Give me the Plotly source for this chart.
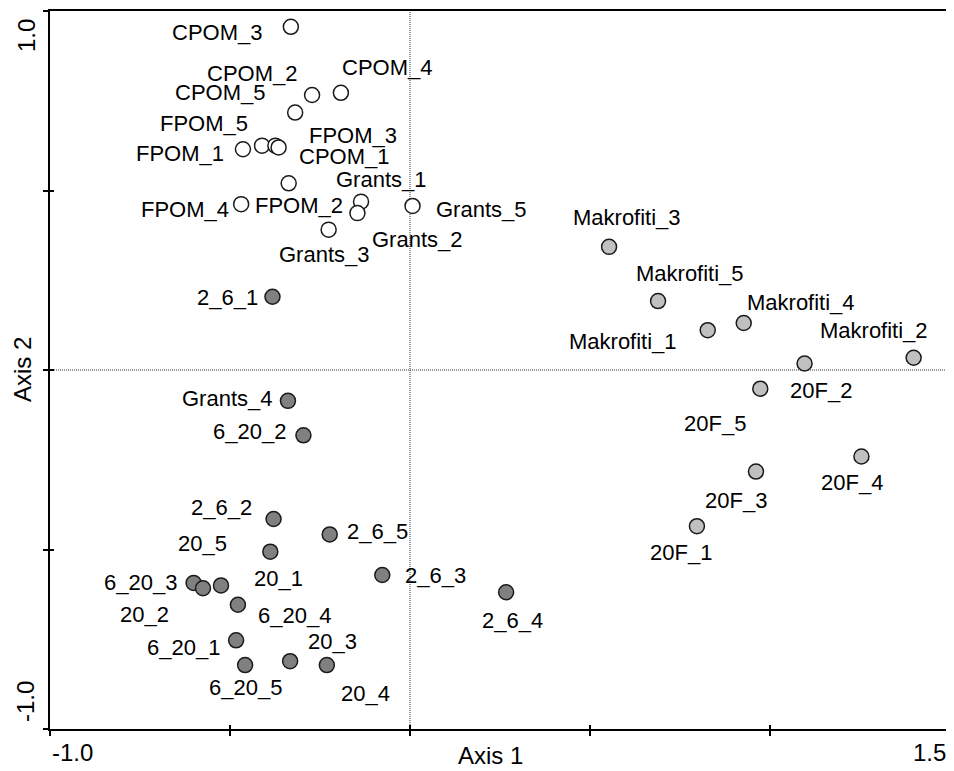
import plotly.graph_objects as go

# ---------------- data ----------------
open_names = ["CPOM_3", "CPOM_2", "CPOM_5", "CPOM_4", "FPOM_5", "FPOM_1", "FPOM_3", "CPOM_1",
              "FPOM_4", "FPOM_2", "Grants_1", "Grants_5", "Grants_2", "Grants_3"]
open_x = [-0.331, -0.272, -0.319, -0.192, -0.411, -0.464, -0.374, -0.365,
          -0.469, -0.337, -0.136, 0.007, -0.146, -0.226]
open_y = [0.956, 0.766, 0.717, 0.772, 0.625, 0.615, 0.625, 0.620,
          0.462, 0.520, 0.469, 0.457, 0.437, 0.391]

dark_names = ["2_6_1", "Grants_4", "6_20_2", "2_6_2", "20_5", "6_20_3", "20_2", "20_1",
              "6_20_4", "6_20_1", "6_20_5", "20_3", "20_4", "2_6_5", "2_6_3", "2_6_4"]
dark_x = [-0.382, -0.339, -0.296, -0.379, -0.388, -0.601, -0.575, -0.525,
          -0.478, -0.483, -0.458, -0.333, -0.231, -0.223, -0.077, 0.267]
dark_y = [0.204, -0.086, -0.182, -0.415, -0.506, -0.593, -0.608, -0.600,
          -0.654, -0.753, -0.822, -0.811, -0.822, -0.458, -0.571, -0.619]

light_names = ["Makrofiti_3", "Makrofiti_5", "Makrofiti_1", "Makrofiti_4", "Makrofiti_2",
               "20F_2", "20F_5", "20F_3", "20F_4", "20F_1"]
light_x = [0.553, 0.689, 0.827, 0.927, 1.399, 1.096, 0.973, 0.961, 1.254, 0.797]
light_y = [0.343, 0.192, 0.111, 0.131, 0.034, 0.018, -0.052, -0.283, -0.241, -0.435]

x_tick_vals = [-1.0, -0.5, 0.0, 0.5, 1.0, 1.5]
y_tick_vals = [-1.0, -0.5, 0.0, 0.5, 1.0]
x_end_labels = ["-1.0", "1.5"]
y_end_labels = ["-1.0", "1.0"]
x_title = "Axis 1"
y_title = "Axis 2"

# ---------------- label placement (screen px offsets: dx right, dy down) ----------------
label_offsets = {
    "CPOM_3": (-74, 6), "CPOM_2": (-60, -22), "CPOM_5": (-75, -20), "CPOM_4": (46, -25),
    "FPOM_5": (-58, -22), "FPOM_1": (-63, 4), "FPOM_3": (78, -10), "CPOM_1": (65, 9),
    "FPOM_4": (-56, 5), "FPOM_2": (10, 22), "Grants_1": (20, -22), "Grants_5": (69, 4),
    "Grants_2": (60, 26), "Grants_3": (-4, 25),
    "2_6_1": (-45, 1), "Grants_4": (-60, -2), "6_20_2": (-54, -4), "2_6_2": (-52, -11),
    "20_5": (-68, -8), "6_20_3": (-53, 0), "20_2": (-59, 26), "20_1": (57, -7),
    "6_20_4": (57, 11), "6_20_1": (-53, 7), "6_20_5": (0, 22), "20_3": (42, -20),
    "20_4": (39, 28), "2_6_5": (48, -3), "2_6_3": (53, 1), "2_6_4": (6, 28),
    "Makrofiti_3": (18, -29), "Makrofiti_5": (32, -28), "Makrofiti_1": (-85, 11),
    "Makrofiti_4": (57, -20), "Makrofiti_2": (-40, -27), "20F_2": (16, 27),
    "20F_5": (-45, 35), "20F_3": (-20, 29), "20F_4": (-9, 26), "20F_1": (-16, 26),
}

FONT = "Liberation Sans, Arial, sans-serif"
LABEL_SIZE = 22
AXIS_SIZE = 24

fig = go.Figure()

groups = [
    (open_names, open_x, open_y, "white"),
    (dark_names, dark_x, dark_y, "#808080"),
    (light_names, light_x, light_y, "#c0c0c0"),
]
annotations = []
for names, xs, ys, fill in groups:
    fig.add_trace(go.Scatter(
        x=xs, y=ys, mode="markers", text=names, hoverinfo="text",
        marker=dict(size=15, color=fill, line=dict(color="#1a1a1a", width=1.5)),
        showlegend=False, xaxis="x", yaxis="y",
    ))
    for n, xv, yv in zip(names, xs, ys):
        dx, dy = label_offsets[n]
        annotations.append(dict(
            x=xv, y=yv, xref="x", yref="y", text=n, showarrow=False,
            xanchor="center", yanchor="middle", xshift=dx, yshift=-dy,
            font=dict(family=FONT, size=LABEL_SIZE, color="black"),
        ))

# end tick labels
annotations.append(dict(x=x_tick_vals[0], y=0, xref="x", yref="paper", text=x_end_labels[0],
                        showarrow=False, xanchor="center", yanchor="middle", xshift=22, yshift=-23,
                        font=dict(family=FONT, size=AXIS_SIZE, color="black")))
annotations.append(dict(x=x_tick_vals[-1], y=0, xref="x", yref="paper", text=x_end_labels[1],
                        showarrow=False, xanchor="center", yanchor="middle", xshift=-21, yshift=-23,
                        font=dict(family=FONT, size=AXIS_SIZE, color="black")))
annotations.append(dict(x=0, y=y_tick_vals[0], xref="paper", yref="y", text=y_end_labels[0],
                        showarrow=False, xanchor="center", yanchor="middle", xshift=-25, yshift=27,
                        textangle=-90, font=dict(family=FONT, size=AXIS_SIZE, color="black")))
annotations.append(dict(x=0, y=y_tick_vals[-1], xref="paper", yref="y", text=y_end_labels[1],
                        showarrow=False, xanchor="center", yanchor="middle", xshift=-24, yshift=-25,
                        textangle=-90, font=dict(family=FONT, size=AXIS_SIZE, color="black")))
# axis titles
annotations.append(dict(x=0.489, y=0, xref="paper", yref="paper", text=x_title, showarrow=False,
                        xanchor="center", yanchor="middle", yshift=-26,
                        font=dict(family=FONT, size=AXIS_SIZE, color="black")))
annotations.append(dict(x=0, y=0.5, xref="paper", yref="paper", text=y_title, showarrow=False,
                        xanchor="center", yanchor="middle", xshift=-28, textangle=-90,
                        font=dict(family=FONT, size=AXIS_SIZE, color="black")))

# dotted zero lines
shapes = [
    dict(type="line", xref="x", yref="paper", x0=0, x1=0, y0=0, y1=1,
         line=dict(color="#333333", width=1, dash="1px,1px"), layer="below"),
    dict(type="line", xref="paper", yref="y", x0=0, x1=1, y0=0, y1=0,
         line=dict(color="#333333", width=1, dash="1px,1px"), layer="below"),
]

common_axis = dict(showgrid=False, zeroline=False, showticklabels=False,
                   ticklen=5, tickwidth=1.5, tickcolor="black")
# page body has an 8px default margin, so the figure is sized/margined to compensate
fig.update_layout(
    width=946, height=763,
    margin=dict(l=42, r=4, t=1, b=42),
    paper_bgcolor="white", plot_bgcolor="white",
    xaxis=dict(range=[-1.0, 1.5], tickvals=x_tick_vals, ticks="outside",
               showline=True, linecolor="black", linewidth=2, mirror=True, **common_axis),
    yaxis=dict(range=[-1.0, 1.0], tickvals=y_tick_vals, ticks="outside",
               showline=True, linecolor="black", linewidth=2, mirror=True, **common_axis),
    xaxis2=dict(range=[-1.0, 1.5], tickvals=x_tick_vals, ticks="inside", overlaying="x",
                anchor="y", showline=False, **common_axis),
    yaxis2=dict(range=[-1.0, 1.0], tickvals=y_tick_vals, ticks="inside", overlaying="y",
                anchor="x", showline=False, **common_axis),
    annotations=annotations, shapes=shapes,
)
fig.add_trace(go.Scatter(x=[None], y=[None], xaxis="x2", yaxis="y2", showlegend=False,
                         hoverinfo="skip"))
fig.update_xaxes(selector=dict(overlaying="x"), ticklen=4)
fig.update_yaxes(selector=dict(overlaying="y"), ticklen=4)

fig.write_html("out.html")
